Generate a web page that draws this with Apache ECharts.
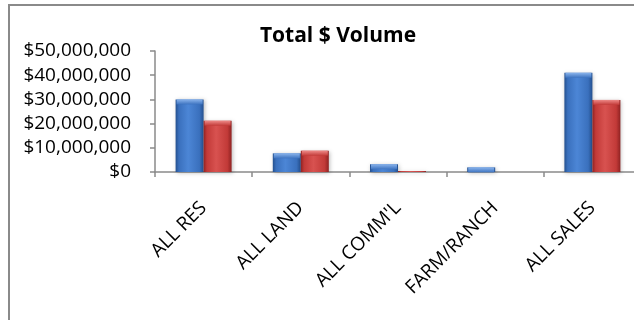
<!DOCTYPE html>
<html>
<head>
<meta charset="utf-8">
<script src="https://cdn.jsdelivr.net/npm/echarts@6/dist/echarts.min.js"></script>
<style>
  html, body { margin: 0; padding: 0; background: #fff; overflow: hidden; }
  #chart { width: 660px; height: 320px; }
</style>
</head>
<body>
<div id="chart"></div>
<script>
// Sales categories and dollar volumes for the two periods
const categories = ['ALL RES', 'ALL LAND', "ALL COMM'L", 'FARM/RANCH', 'ALL SALES'];
const volumeA = [30000000, 7700000, 3200000, 1900000, 41000000];
const volumeB = [21200000, 8800000, 400000, 0, 29800000];
const yTicks = { min: 0, max: 50000000, step: 10000000 };

const font = '"Open Sans", "Liberation Sans", sans-serif';

function barFill(dark, mid, light) {
  return new echarts.graphic.LinearGradient(0, 0, 1, 0, [
    { offset: 0, color: dark },
    { offset: 0.12, color: mid },
    { offset: 0.45, color: light },
    { offset: 0.85, color: mid },
    { offset: 1, color: dark }
  ]);
}
function capFill(base, light) {
  return new echarts.graphic.LinearGradient(0, 0, 0, 1, [
    { offset: 0, color: light },
    { offset: 1, color: base }
  ]);
}

const blueBody = barFill('#24508f', '#3a70bd', '#4c86d6');
const redBody = barFill('#8f2222', '#c23a38', '#d85250');
const blueCap = capFill('#3d73c0', '#8ab4ec');
const redCap = capFill('#c23a38', '#ee8a88');

function money(v) {
  return '$' + v.toLocaleString('en-US');
}
// bevelled top only where the bar is tall enough to carry it
function caps(values) {
  return values.map(v => (v >= 1000000 ? v : null));
}

const chart = echarts.init(document.getElementById('chart'), null, { renderer: 'canvas' });
chart.setOption({
  animation: false,
  backgroundColor: '#ffffff',
  title: {
    text: 'Total $ Volume',
    left: 333,
    textAlign: 'center',
    top: 21,
    textStyle: { fontFamily: font, fontWeight: 'bold', fontSize: 21, color: '#000' }
  },
  graphic: [{
    type: 'rect',
    shape: { x: 9, y: 5, width: 720, height: 420 },
    style: { fill: 'none', stroke: '#8a8a8a', lineWidth: 2 },
    silent: true,
    z: 100
  }],
  grid: { left: 155, right: 19, top: 51, bottom: 148 },
  xAxis: {
    type: 'category',
    data: categories,
    axisLine: { lineStyle: { color: '#8a8a8a', width: 1.5 } },
    axisTick: { show: true, length: 5, lineStyle: { color: '#8a8a8a', width: 1.5 } },
    axisLabel: {
      rotate: 45,
      margin: 33,
      fontFamily: font,
      fontSize: 19,
      color: '#000'
    }
  },
  yAxis: {
    type: 'value',
    min: yTicks.min,
    max: yTicks.max,
    interval: yTicks.step,
    splitLine: { show: false },
    axisLine: { show: true, lineStyle: { color: '#8a8a8a', width: 1.5 } },
    axisTick: { show: true, length: 5, lineStyle: { color: '#8a8a8a', width: 1.5 } },
    axisLabel: {
      formatter: money,
      margin: 24,
      fontFamily: font,
      fontSize: 19,
      color: '#000'
    }
  },
  series: [
    {
      name: 'A',
      type: 'bar',
      data: volumeA,
      barWidth: 28,
      barGap: '0%',
      itemStyle: {
        color: blueBody,
        shadowColor: 'rgba(0,0,0,0.25)',
        shadowBlur: 4,
        shadowOffsetX: 1,
        shadowOffsetY: 1
      },
      z: 2
    },
    {
      name: 'B',
      type: 'bar',
      data: volumeB,
      barWidth: 28,
      barGap: '0%',
      itemStyle: {
        color: redBody,
        shadowColor: 'rgba(0,0,0,0.25)',
        shadowBlur: 4,
        shadowOffsetX: 1,
        shadowOffsetY: 1
      },
      z: 2
    },
    {
      name: 'A cap',
      type: 'pictorialBar',
      data: caps(volumeA),
      symbol: 'rect',
      symbolSize: [26, 5],
      symbolPosition: 'end',
      barWidth: 28,
      barGap: '0%',
      itemStyle: { color: blueCap },
      z: 3
    },
    {
      name: 'B cap',
      type: 'pictorialBar',
      data: caps(volumeB),
      symbol: 'rect',
      symbolSize: [26, 5],
      symbolPosition: 'end',
      barWidth: 28,
      barGap: '0%',
      itemStyle: { color: redCap },
      z: 3
    }
  ]
});
</script>
</body>
</html>
